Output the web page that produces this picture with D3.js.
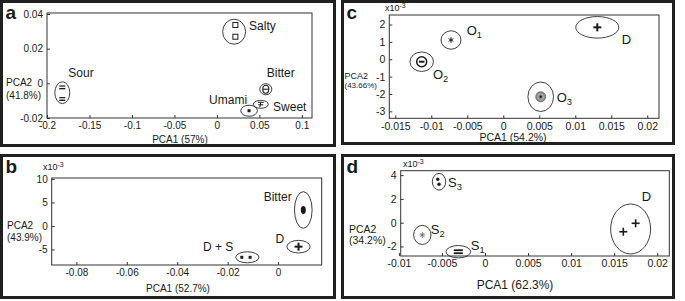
<!DOCTYPE html>
<html>
<head>
<meta charset="utf-8">
<script src="https://cdn.jsdelivr.net/npm/d3@7"></script>
<style>
  body { margin: 0; background: #fff; }
  text { font-family: "Liberation Sans", Arial, sans-serif; fill: #1a1a1a; }
</style>
</head>
<body>
<svg id="fig" width="685" height="301"></svg>
<script>
// ---- data: panel a (five tastes) ----
const ellipsesA = [
  {g: 'Sour',  cx: -0.182, cy: -0.0054, rx: 0.0088, ry: 0.0063},
  {g: 'Salty', cx: 0.0203, cy: 0.0298,  rx: 0.0135, ry: 0.0072},
  {g: 'Bitter',cx: 0.0576, cy: -0.0034, rx: 0.0071, ry: 0.0032},
  {g: 'Sweet', cx: 0.0517, cy: -0.0121, rx: 0.0088, ry: 0.0023},
  {g: 'Umami', cx: 0.0379, cy: -0.0158, rx: 0.0098, ry: 0.0032}
];
const pointsA = [
  {g: 'Sour', x: -0.182, y: -0.0023}, {g: 'Sour', x: -0.182, y: -0.009},
  {g: 'Salty', x: 0.0218, y: 0.0337}, {g: 'Salty', x: 0.0218, y: 0.0269},
  {g: 'Bitter', x: 0.0576, y: -0.0034},
  {g: 'Sweet', x: 0.0517, y: -0.0121},
  {g: 'Umami', x: 0.0379, y: -0.0158}
];
const ticksAx = [-0.2, -0.15, -0.1, -0.05, 0, 0.05, 0.1];
const ticksAy = [-0.02, 0, 0.02, 0.04];

// ---- data: panel b (x10^-3 on PCA2) ----
const ellipsesB = [
  {g: 'Bitter', cx: 0.0100,  cy: 3.4,   rx: 0.0035, ry: 3.9},
  {g: 'D',      cx: 0.0081,  cy: -4.4,  rx: 0.0046, ry: 1.34},
  {g: 'D + S',  cx: -0.0122, cy: -6.66, rx: 0.0046, ry: 1.17}
];
const pointsB = [
  {g: 'Bitter', x: 0.0100, y: 3.4},
  {g: 'D', x: 0.0081, y: -4.4},
  {g: 'D + S', x: -0.0144, y: -6.66}, {g: 'D + S', x: -0.0111, y: -6.66}
];
const ticksBx = [-0.08, -0.06, -0.04, -0.02, 0];
const ticksBy = [-5, 0, 5, 10];

// ---- data: panel c (x10^-3 on PCA2) ----
const ellipsesC = [
  {g: 'O1', cx: -0.00726, cy: 1.11,  rx: 0.00139, ry: 0.53},
  {g: 'O2', cx: -0.01133, cy: -0.14, rx: 0.00163, ry: 0.56},
  {g: 'D',  cx: 0.01306,  cy: 1.84,  rx: 0.00299, ry: 0.62},
  {g: 'O3', cx: 0.0052,   cy: -2.16, rx: 0.00178, ry: 0.85}
];
const pointsC = [
  {g: 'O1', x: -0.00726, y: 1.11},
  {g: 'O2', x: -0.01133, y: -0.14},
  {g: 'D',  x: 0.01306,  y: 1.84},
  {g: 'O3', x: 0.0052,   y: -2.16}
];
const ticksCx = [-0.015, -0.01, -0.005, 0, 0.005, 0.01, 0.015, 0.02];
const ticksCy = [-3, -2, -1, 0, 1, 2];

// ---- data: panel d (x10^-3 on PCA2) ----
const ellipsesD = [
  {g: 'S3', cx: -0.00534, cy: 3.44,  rx: 0.00078, ry: 0.70},
  {g: 'S2', cx: -0.00728, cy: -1.03, rx: 0.00101, ry: 0.80},
  {g: 'S1', cx: -0.0031,  cy: -2.44, rx: 0.00143, ry: 0.52},
  {g: 'D',  cx: 0.01691,  cy: -0.53, rx: 0.00232, ry: 2.1}
];
const pointsD = [
  {g: 'S3', x: -0.00549, y: 3.65}, {g: 'S3', x: -0.00534, y: 3.23},
  {g: 'S2', x: -0.00728, y: -1.03},
  {g: 'S1', x: -0.0031,  y: -2.44},
  {g: 'D',  x: 0.01606,  y: -0.76}, {g: 'D', x: 0.01749, y: -0.05}
];
const ticksDx = [-0.01, -0.005, 0, 0.005, 0.01, 0.015, 0.02];
const ticksDy = [-2, 0, 2, 4];

// ---- layout ----
const panels = [
  {
    letter: 'a', frame: [1.5, 1.5, 333, 144],
    xr: [47, 312], yr: [118, 13], xd: [-0.2, 0.112], yd: [-0.02, 0.0406],
    xt: ticksAx, yt: ticksAy, ell: ellipsesA, pts: pointsA,
    xlab: 'PCA1 (57%)', xlabPos: [180, 143], ylab: ['PCA2', '(41.8%)'], ylabX: 6,
    ylabAt: 0, ylabDy: [3, 16], ylabFont: [10, 10],
    axisFont: 10, labFont: 10, exp: null,
    markers: {Sour: 'eq', Salty: 'square', Bitter: 'theta', Sweet: 'pm', Umami: 'sq'},
    names: {Sour: [6, -15.7, 'start'], Salty: [15, -1.7, 'start'], Bitter: [1, -12, 'start'],
            Sweet: [12.3, 6.7, 'start'], Umami: [-2, -6.7, 'end']},
    nameFont: 12
  },
  {
    letter: 'b', frame: [1.5, 155.5, 333, 142],
    xr: [51.7, 321.7], yr: [265, 178], xd: [-0.0898, 0.0173], yd: [-8.3, 10.2],
    xt: ticksBx, yt: ticksBy, ell: ellipsesB, pts: pointsB,
    xlab: 'PCA1 (52.7%)', xlabPos: [178, 292], ylab: ['PCA2', '(43.9%)'], ylabX: 7,
    ylabAt: 0, ylabDy: [3, 15], ylabFont: [10, 10],
    axisFont: 10, labFont: 10, exp: [43, 170],
    markers: {'Bitter': 'oval', 'D': 'plusB', 'D + S': 'sq'},
    names: {'Bitter': [-11.6, -9, 'end'], 'D': [-23, -4, 'start'], 'D + S': [-14, -6, 'end']},
    nameFont: 12
  },
  {
    letter: 'c', frame: [342.5, 1.5, 331, 142],
    xr: [389.3, 659], yr: [118.3, 15], xd: [-0.01583, 0.02163], yd: [-3.4, 2.55],
    xt: ticksCx, yt: ticksCy, ell: ellipsesC, pts: pointsC,
    xlab: 'PCA1 (54.2%)', xlabPos: [513, 141], ylab: ['PCA2', '(43.66%)'], ylabX: 344.5,
    ylabAt: -1, ylabDy: [2, 11], ylabFont: [9, 8],
    axisFont: 10.5, labFont: 10.5, exp: [385, 11],
    markers: {O1: 'star', O2: 'thetaB', D: 'plusB', O3: 'stip'},
    names: {O1: [15.7, -5, 'start'], O2: [11.3, 17, 'start'], D: [24.4, 17, 'start'], O3: [16, 4.8, 'start']},
    nameFont: 13
  },
  {
    letter: 'd', frame: [342.5, 155.5, 331, 142],
    xr: [400.7, 669.3], yr: [256, 170.7], xd: [-0.00979, 0.0214], yd: [-2.8, 4.37],
    xt: ticksDx, yt: ticksDy, ell: ellipsesD, pts: pointsD,
    xlab: 'PCA1 (62.3%)', xlabPos: [515, 289], ylab: ['PCA2', '(34.2%)'], ylabX: 349,
    ylabAt: 0, ylabDy: [10.5, 21.5], ylabFont: [10.5, 10.5],
    axisFont: 10.5, labFont: 12, exp: [403, 167],
    markers: {S3: 'dotR', S2: 'ast', S1: 'eqB', D: 'plus'},
    names: {S3: [9, 5.3, 'start'], S2: [8.4, -0.5, 'start'], S1: [12.4, -2.2, 'start'], D: [11, -28, 'start']},
    nameFont: 13
  }
];

const svg = d3.select('#fig');
const ink = '#1a1a1a';
const fmt = d => String(+d.toFixed(4));

function line(g, x1, y1, x2, y2, w) {
  g.append('line').attr('x1', x1).attr('y1', y1).attr('x2', x2).attr('y2', y2)
    .attr('stroke', ink).attr('stroke-width', w);
}

function drawMarker(g, type, x, y) {
  const m = g.append('g').attr('transform', `translate(${x},${y})`);
  switch (type) {
    case 'eq':
      line(m, -3, -1.3, 3, -1.3, 1.2); line(m, -3, 1.3, 3, 1.3, 1.4); break;
    case 'square':
      m.append('rect').attr('x', -2.5).attr('y', -2.5).attr('width', 5).attr('height', 5)
        .attr('fill', 'none').attr('stroke', ink).attr('stroke-width', 1); break;
    case 'theta':
      m.append('ellipse').attr('rx', 3).attr('ry', 4).attr('fill', 'none').attr('stroke', ink).attr('stroke-width', 1.1);
      line(m, -3, 0, 3, 0, 1.1); break;
    case 'pm':
      line(m, -3, -2, 3, -2, 1); line(m, -2.5, 0.5, 2.5, 0.5, 1); line(m, 0, -2, -1, 3, 1); break;
    case 'sq':
      m.append('rect').attr('x', -1.5).attr('y', -1.5).attr('width', 3).attr('height', 3).attr('fill', ink); break;
    case 'oval':
      m.append('ellipse').attr('rx', 2.5).attr('ry', 4).attr('fill', ink); break;
    case 'plusB':
      line(m, -4, 0, 4, 0, 2); line(m, 0, -4, 0, 4, 2); break;
    case 'plus':
      line(m, -4, 0, 4, 0, 1.6); line(m, 0, -4, 0, 4, 1.6); break;
    case 'star':
      [90, 30, 150].forEach(a => {
        const dx = 2.8 * Math.cos(a * Math.PI / 180), dy = 2.8 * Math.sin(a * Math.PI / 180);
        line(m, -dx, -dy, dx, dy, 1);
      }); break;
    case 'thetaB':
      m.append('circle').attr('r', 5).attr('fill', 'none').attr('stroke', ink).attr('stroke-width', 1.5);
      line(m, -2.8, 0, 2.8, 0, 2); break;
    case 'stip':
      m.append('circle').attr('r', 5).attr('fill', '#8a8a8a').attr('stroke', '#666').attr('stroke-width', 0.8);
      m.append('circle').attr('r', 3).attr('fill', 'none').attr('stroke', '#bbb').attr('stroke-width', 0.8);
      m.append('circle').attr('r', 1.2).attr('fill', '#222'); break;
    case 'dotR':
      m.append('circle').attr('r', 1.7).attr('fill', ink); break;
    case 'ast':
      [0, 45, 90, 135].forEach(a => {
        const dx = 3 * Math.cos(a * Math.PI / 180), dy = 3 * Math.sin(a * Math.PI / 180);
        m.append('line').attr('x1', -dx).attr('y1', -dy).attr('x2', dx).attr('y2', dy)
          .attr('stroke', '#555').attr('stroke-width', 0.7);
      }); break;
    case 'eqB':
      line(m, -4.5, -1.5, 4.5, -1.5, 1.8); line(m, -4.5, 1.5, 4.5, 1.5, 1.8); break;
  }
}

function nameText(g, name, x, y, anchor, size) {
  const t = g.append('text').attr('x', x).attr('y', y).attr('text-anchor', anchor)
    .style('font-size', size + 'px');
  const m = name.match(/^([A-Z])(\d)$/);
  if (m) {
    t.append('tspan').text(m[1]);
    t.append('tspan').attr('dy', 3).style('font-size', (size * 0.72) + 'px').text(m[2]);
  } else {
    t.text(name);
  }
}

panels.forEach(p => {
  const g = svg.append('g');
  const x = d3.scaleLinear().domain(p.xd).range(p.xr);
  const y = d3.scaleLinear().domain(p.yd).range(p.yr);

  // outer frame
  g.append('rect').attr('x', p.frame[0]).attr('y', p.frame[1])
    .attr('width', p.frame[2]).attr('height', p.frame[3])
    .attr('fill', 'none').attr('stroke', '#202020').attr('stroke-width', 3);

  g.append('text').attr('x', p.frame[0] + 4).attr('y', p.frame[1] + 17)
    .style('font-size', '19px').style('font-weight', 'bold').text(p.letter);

  // plot box
  g.append('rect').attr('x', p.xr[0]).attr('y', p.yr[1])
    .attr('width', p.xr[1] - p.xr[0]).attr('height', p.yr[0] - p.yr[1])
    .attr('fill', 'none').attr('stroke', '#333').attr('stroke-width', 1);

  const xAxis = d3.axisBottom(x).tickValues(p.xt).tickFormat(fmt)
    .tickSizeInner(-3).tickSizeOuter(0).tickPadding(4);
  const yAxis = d3.axisLeft(y).tickValues(p.yt).tickFormat(fmt)
    .tickSizeInner(-3).tickSizeOuter(0).tickPadding(4);

  g.append('g').attr('transform', `translate(0,${p.yr[0]})`).call(xAxis)
    .call(a => a.select('.domain').remove())
    .call(a => a.selectAll('line').attr('stroke', '#333'))
    .call(a => a.selectAll('text').style('font-size', p.axisFont + 'px')
      .attr('font-family', null).attr('fill', ink));
  g.append('g').attr('transform', `translate(${p.xr[0]},0)`).call(yAxis)
    .call(a => a.select('.domain').remove())
    .call(a => a.selectAll('line').attr('stroke', '#333'))
    .call(a => a.selectAll('text').style('font-size', p.axisFont + 'px')
      .attr('font-family', null).attr('fill', ink));

  if (p.exp) {
    const t = g.append('text').attr('x', p.exp[0]).attr('y', p.exp[1]).style('font-size', '9px');
    t.append('tspan').text('x10');
    t.append('tspan').attr('dy', -3).style('font-size', '7px').text('-3');
  }

  g.append('text').attr('x', p.xlabPos[0]).attr('y', p.xlabPos[1]).attr('text-anchor', 'middle')
    .style('font-size', p.labFont + 'px').text(p.xlab);
  const yl = y(p.ylabAt);
  g.append('text').attr('x', p.ylabX).attr('y', yl + p.ylabDy[0])
    .style('font-size', p.ylabFont[0] + 'px').text(p.ylab[0]);
  g.append('text').attr('x', p.ylabX).attr('y', yl + p.ylabDy[1])
    .style('font-size', p.ylabFont[1] + 'px').text(p.ylab[1]);

  // confidence ellipses
  g.selectAll('ellipse.grp').data(p.ell).join('ellipse').attr('class', 'grp')
    .attr('cx', d => x(d.cx)).attr('cy', d => y(d.cy))
    .attr('rx', d => Math.abs(x(d.cx + d.rx) - x(d.cx)))
    .attr('ry', d => Math.abs(y(d.cy + d.ry) - y(d.cy)))
    .attr('fill', 'none').attr('stroke', '#2a2a2a').attr('stroke-width', 0.9);

  p.pts.forEach(d => drawMarker(g, p.markers[d.g], x(d.x), y(d.y)));

  p.ell.forEach(d => {
    const o = p.names[d.g];
    nameText(g, d.g, x(d.cx) + o[0], y(d.cy) + o[1], o[2], p.nameFont);
  });
});
</script>
</body>
</html>
